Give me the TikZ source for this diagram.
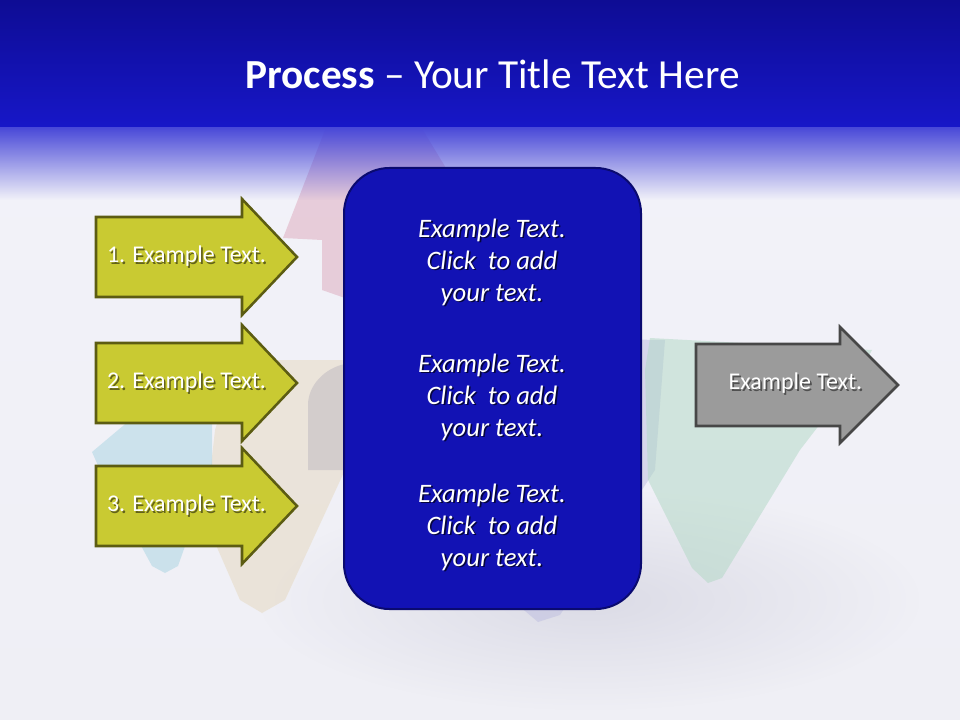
\documentclass[tikz,border=0pt]{standalone}
\usepackage{fontspec}
\setmainfont{Carlito}
\usetikzlibrary{fadings}

\definecolor{headtop}{HTML}{0E0C94}
\definecolor{headbot}{HTML}{1717C8}
\definecolor{headfade}{HTML}{4848D8}
\definecolor{bgtop}{HTML}{F3F3FA}
\definecolor{bgbot}{HTML}{EFEFF5}
\definecolor{haze}{HTML}{D6D6E2}
\definecolor{boxblue}{HTML}{1212B4}
\definecolor{boxline}{HTML}{0A0A70}
\definecolor{boxshade}{HTML}{05053C}
\definecolor{olivefill}{HTML}{C9CA32}
\definecolor{oliveline}{HTML}{5C5C12}
\definecolor{oliveshade}{HTML}{62621A}
\definecolor{grayfill}{HTML}{9B9B9B}
\definecolor{grayline}{HTML}{474747}
\definecolor{grayshade}{HTML}{505050}
\definecolor{ghostred}{HTML}{DDA8BC}
\definecolor{ghostyellow}{HTML}{E6D8BE}
\definecolor{ghostblue}{HTML}{A8D4E2}
\definecolor{ghostgreen}{HTML}{B0D8C4}
\definecolor{ghostpurple}{HTML}{BDBDE0}
\definecolor{ghostgray}{HTML}{BDB8C0}

\tikzfading[name=fadedown, top color=transparent!0, bottom color=transparent!100]
\tikzfading[name=softspot, inner color=transparent!20, outer color=transparent!100]

\tikzstyle{ghost}=[opacity=0.5]
\tikzstyle{steparrow}=[draw=oliveline, fill=olivefill, line width=1.9pt, line join=miter]
\tikzstyle{endarrow}=[draw=grayline, fill=grayfill, line width=1.9pt, line join=miter]
\tikzstyle{steptext}=[text=white, font=\fontsize{18}{21}\selectfont, inner sep=0pt]
\tikzstyle{boxtext}=[text=white, font=\itshape\fontsize{20}{24}\selectfont, align=center, inner sep=0pt]
\tikzstyle{mainbox}=[draw=boxline, fill=boxblue, line width=1.5pt, rounded corners=34pt,
  minimum width=222.75pt, minimum height=330.75pt, inner sep=0pt]

% text with a small drop shadow
\newcommand{\shadowed}[2]{\makebox[0pt][l]{\hspace{1.2pt}\raisebox{-1.2pt}{\textcolor{#1}{#2}}}#2}

\begin{document}
\begin{tikzpicture}[x=0.75pt, y=-0.75pt]

  \useasboundingbox (0,0) rectangle (960,720);

  % background
  \fill[top color=bgtop, bottom color=bgbot] (0,0) rectangle (960,720);
  \fill[haze, path fading=softspot] (590,600) ellipse (330 and 110);

  % faint arrows behind
  \fill[ghost, ghostred] (283,238) -- (332,112) -- (412,112) -- (452,178) -- (345,240) -- (345,298) -- (322,290) -- (322,240) -- cycle;
  \fill[ghost, ghostyellow] (237,360) -- (345,360) -- (345,470) -- (285,600) -- (262,613) -- (240,600) -- (205,520) -- (215,430) -- cycle;
  \fill[ghost, ghostgray] (308,470) -- (308,405) .. controls (308,385) and (325,368) .. (345,364) -- (345,470) -- cycle;
  \fill[ghost, ghostblue] (92,452) -- (130,420) -- (212,420) -- (212,470) -- (178,566) -- (165,573) -- (152,566) -- (100,470) -- cycle;
  \fill[ghost, ghostpurple] (520,338) -- (665,340) -- (655,470) -- (560,615) -- (538,622) -- (512,600) -- cycle;
  \fill[ghost, ghostgreen] (650,338) -- (872,350) -- (860,372) -- (800,450) -- (722,578) -- (708,583) -- (692,568) -- (648,480) -- (645,370) -- cycle;

  % title band
  \fill[headfade, path fading=fadedown] (0,127) rectangle (960,200);
  \fill[top color=headtop, bottom color=headbot] (0,0) rectangle (960,127);
  \node[text=white, font=\fontsize{31}{37}\selectfont] (title) at (492.5,74) {\textbf{Process} – Your Title Text Here};

  % steps
  \foreach \y/\name/\label in {257/step1/1. Example Text., 383/step2/2. Example Text., 506/step3/3. Example Text.}
  {
    \draw[steparrow] (96,\y-40) -- (242,\y-40) -- (242,\y-58) -- (297,\y) -- (242,\y+58) -- (242,\y+40) -- (96,\y+40) -- cycle;
    \node[steptext] (\name) at (186.5,\y) {\shadowed{oliveshade}{\label}};
  }

  % middle box
  \node[mainbox] (box) at (492.5,388.5) {};
  \foreach \y/\name in {263/info1, 398/info2, 528/info3}
    \node[boxtext] (\name) at (492,\y) {\shadowed{boxshade}{Example Text.}\\ \shadowed{boxshade}{Click\ \ to add}\\ \shadowed{boxshade}{your text.}};

  % result
  \draw[endarrow] (696,344) -- (840,344) -- (840,327) -- (898,385) -- (840,443) -- (840,426) -- (696,426) -- cycle;
  \node[steptext] (result) at (795.5,384) {\shadowed{grayshade}{Example Text.}};

\end{tikzpicture}
\end{document}
